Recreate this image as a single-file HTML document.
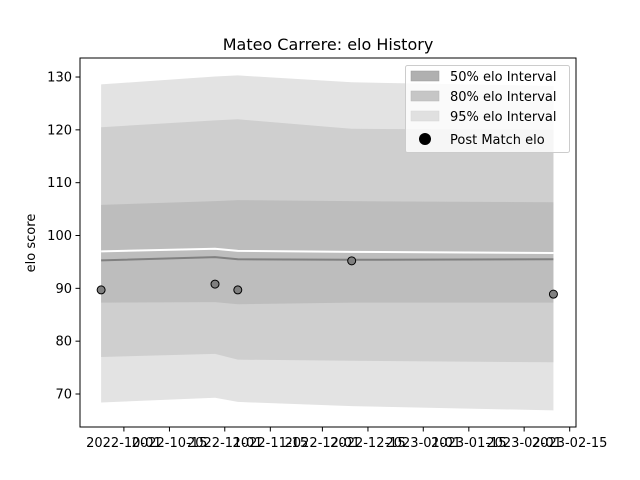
<!DOCTYPE html>
<html><head><meta charset="utf-8"><style>
html,body{margin:0;padding:0;background:#fff;}
svg{display:block;font-family:"DejaVu Sans","Liberation Sans",sans-serif;}
</style></head><body>
<svg id="chart" width="640" height="480" viewBox="0 0 640 480">
<rect width="640" height="480" fill="#fff"/>
<text x="328" y="50" font-size="16" text-anchor="middle">Mateo Carrere: elo History</text>
<g id="plot"></g>
<g id="xticks"></g>
<g id="yticks"></g>
<text transform="translate(35,243) rotate(-90)" font-size="13" text-anchor="middle">elo score</text>
<rect x="80" y="58" width="496" height="369" fill="none" stroke="#000" stroke-width="1"/>
<g>
<rect x="405.5" y="65.5" width="164" height="87" rx="2" fill="#fff" fill-opacity="0.8" stroke="#ccc"/>
<rect x="411" y="71" width="28" height="10" fill="#b0b0b0" stroke="#999" stroke-width="0.5"/>
<text x="450" y="81" font-size="13">50% elo Interval</text>
<rect x="411" y="91" width="28" height="10" fill="#c6c6c6" stroke="#b5b5b5" stroke-width="0.5"/>
<text x="450" y="101" font-size="13">80% elo Interval</text>
<rect x="411" y="111" width="28" height="10" fill="#e0e0e0" stroke="#d5d5d5" stroke-width="0.5"/>
<text x="450" y="121" font-size="13">95% elo Interval</text>
<circle cx="425" cy="139" r="6" fill="#000"/>
<text x="450" y="144" font-size="13">Post Match elo</text>
</g>
</svg>
<script>
const dates = ["2022-09-24","2022-10-29","2022-11-05","2022-12-10","2023-02-10"];
const postMatch = [89.7, 90.8, 89.7, 95.2, 88.9];
const meanElo = [95.3, 95.9, 95.5, 95.4, 95.5];
const medianElo = [97.0, 97.5, 97.1, 96.9, 96.7];
const p50Upper = [105.8, 106.5, 106.7, 106.5, 106.3];
const p50Lower = [87.3, 87.4, 87.0, 87.3, 87.3];
const p80Upper = [120.5, 121.8, 122.0, 120.2, 120.0];
const p80Lower = [77.0, 77.6, 76.5, 76.3, 76.0];
const p95Upper = [128.6, 130.1, 130.3, 129.0, 128.3];
const p95Lower = [68.4, 69.3, 68.5, 67.7, 66.9];
const xTickLabels = ["2022-10-01","2022-10-15","2022-11-01","2022-11-15","2022-12-01","2022-12-15","2023-01-01","2023-01-15","2023-02-01","2023-02-15"];
const yTickValues = [70, 80, 90, 100, 110, 120, 130];

const NS = "http://www.w3.org/2000/svg";
const DAY = 86400000;
const t0 = Date.parse("2022-10-01");
function xs(d){ return 123.9 + (Date.parse(d) - t0) / DAY * 3.254; }
function ys(v){ return 394 - (v - 70) * 5.283; }
function mk(tag, attrs, parent){ const e = document.createElementNS(NS, tag); for (const k in attrs) e.setAttribute(k, attrs[k]); parent.appendChild(e); return e; }
const plot = document.getElementById("plot");
function band(up, lo, fill, name){
  let d = "M" + dates.map((dt,i)=>xs(dt)+","+ys(up[i])).join(" L");
  d += " L" + dates.map((dt,i)=>xs(dt)+","+ys(lo[i])).reverse().join(" L") + " Z";
  const p = mk("path", {d: d, fill: fill}, plot);
  
  
}
band(p95Upper, p95Lower, "#e3e3e3", "band-95");
band(p80Upper, p80Lower, "#cfcfcf", "band-80");
band(p50Upper, p50Lower, "#bdbdbd", "band-50");
function line(vals, color, w, name){
  const p = mk("polyline", {points: dates.map((dt,i)=>xs(dt)+","+ys(vals[i])).join(" "), fill: "none", stroke: color, "stroke-width": w}, plot);
  
  
}
line(medianElo, "#ffffff", 2, "median-line");
line(meanElo, "#808080", 2, "mean-line");
postMatch.forEach((v,i)=>{
  const c = mk("circle", {cx: xs(dates[i]), cy: ys(v), r: 4, fill: "#808080", stroke: "#000", "stroke-width": 1}, plot);
  
  
});
const xt = document.getElementById("xticks");
xTickLabels.forEach(l=>{
  const x = xs(l);
  const t = mk("line", {x1: x, x2: x, y1: 427, y2: 431.5, stroke: "#000"}, xt);
  
  
  const tx = mk("text", {x: x, y: 447, "font-size": 13, "text-anchor": "middle"}, xt);
  tx.textContent = l;
  
  
});
const yt = document.getElementById("yticks");
yTickValues.forEach(v=>{
  const y = ys(v);
  const t = mk("line", {x1: 75.5, x2: 80, y1: y, y2: y, stroke: "#000"}, yt);
  
  
  const tx = mk("text", {x: 72, y: y + 4.5, "font-size": 13, "text-anchor": "end"}, yt);
  tx.textContent = v;
  
  
});
</script>
</body></html>
